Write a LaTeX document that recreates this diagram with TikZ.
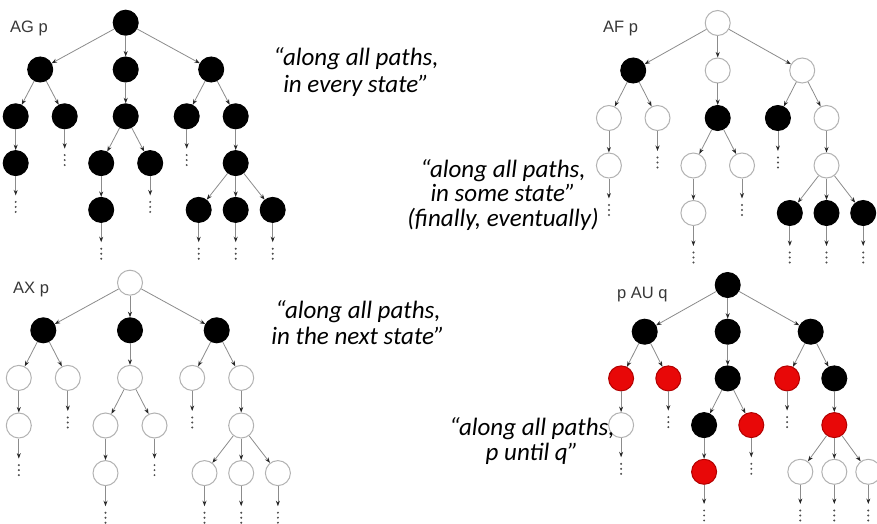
\documentclass[tikz,border=0pt]{standalone}
\usepackage{fontspec}
\setmainfont{Liberation Sans}
\newfontfamily\quotefont{Carlito}
\usetikzlibrary{arrows.meta}

\definecolor{qred}{RGB}{232,8,8}
\definecolor{tagcol}{RGB}{55,55,55}

\tikzset{
  state/.style={circle, minimum size=25pt, inner sep=0pt, line width=1pt, base fill},
  base fill/.style={open},
  open/.style={draw=black!30, fill=white},
  full/.style={draw=black, fill=black},
  hit/.style={draw=red!70!black, fill=qred},
  more/.style={rectangle, minimum width=3pt, minimum height=11pt, inner sep=0pt, outer ysep=6pt},
  dot/.style={fill=black!70},
  edge/.style={draw=black!45, line width=0.8pt, -{Stealth[length=5.5pt,width=4pt,color=black!85]}},
  tag/.style={text=tagcol, font=\fontsize{16.5}{19}\selectfont, inner sep=0pt},
  quote/.style={align=center, inner sep=0pt, font=\quotefont\itshape\fontsize{25}{27}\selectfont},
  n-r/.style={}, n-a/.style={}, n-b/.style={}, n-c/.style={},
  n-aa/.style={}, n-ab/.style={}, n-ba/.style={}, n-ca/.style={}, n-cb/.style={},
  n-aaa/.style={}, n-baa/.style={}, n-bab/.style={}, n-cba/.style={},
  n-baaa/.style={}, n-cbaa/.style={}, n-cbab/.style={}, n-cbac/.style={},
}

% three stacked dots inside a continuation node
\newcommand\stackdots[1]{%
  \fill[dot] (#1.center) ++(0,-5) circle (1.1) ++(0,5) circle (1.1) ++(0,5) circle (1.1);}

% #1 name prefix, #2/#3 root position, #4 first split, #5 second split,
% #6 split of the three-way branch, #7 distance between levels
\newcommand\ctltree[7]{%
  \node[state,n-r]    (#1r)    at (#2,#3) {};
  \node[state,n-a]    (#1a)    at (#2-#4,#3+#7) {};
  \node[state,n-b]    (#1b)    at (#2,#3+#7) {};
  \node[state,n-c]    (#1c)    at (#2+#4,#3+#7) {};
  \node[state,n-aa]   (#1aa)   at (#2-#4-#5,#3+2*#7) {};
  \node[state,n-ab]   (#1ab)   at (#2-#4+#5,#3+2*#7) {};
  \node[state,n-ba]   (#1ba)   at (#2,#3+2*#7) {};
  \node[state,n-ca]   (#1ca)   at (#2+#4-#5,#3+2*#7) {};
  \node[state,n-cb]   (#1cb)   at (#2+#4+#5,#3+2*#7) {};
  \node[state,n-aaa]  (#1aaa)  at (#2-#4-#5,#3+3*#7) {};
  \node[state,n-baa]  (#1baa)  at (#2-#5,#3+3*#7) {};
  \node[state,n-bab]  (#1bab)  at (#2+#5,#3+3*#7) {};
  \node[state,n-cba]  (#1cba)  at (#2+#4+#5,#3+3*#7) {};
  \node[state,n-baaa] (#1baaa) at (#2-#5,#3+4*#7) {};
  \node[state,n-cbaa] (#1cbaa) at (#2+#4+#5-#6,#3+4*#7) {};
  \node[state,n-cbab] (#1cbab) at (#2+#4+#5,#3+4*#7) {};
  \node[state,n-cbac] (#1cbac) at (#2+#4+#5+#6,#3+4*#7) {};
  % continuations
  \node[more] (#1abd)   at (#2-#4+#5,#3+3*#7-3) {};
  \node[more] (#1cad)   at (#2+#4-#5,#3+3*#7-3) {};
  \node[more] (#1aaad)  at (#2-#4-#5,#3+4*#7-3) {};
  \node[more] (#1babd)  at (#2+#5,#3+4*#7-3) {};
  \node[more] (#1baaad) at (#2-#5,#3+5*#7-3) {};
  \node[more] (#1cbaad) at (#2+#4+#5-#6,#3+5*#7-3) {};
  \node[more] (#1cbabd) at (#2+#4+#5,#3+5*#7-3) {};
  \node[more] (#1cbacd) at (#2+#4+#5+#6,#3+5*#7-3) {};
  \stackdots{#1abd}\stackdots{#1cad}\stackdots{#1aaad}\stackdots{#1babd}
  \stackdots{#1baaad}\stackdots{#1cbaad}\stackdots{#1cbabd}\stackdots{#1cbacd}
  % transitions
  \draw[edge] (#1r) -- (#1a);
  \draw[edge] (#1r) -- (#1b);
  \draw[edge] (#1r) -- (#1c);
  \draw[edge] (#1a) -- (#1aa);
  \draw[edge] (#1a) -- (#1ab);
  \draw[edge] (#1b) -- (#1ba);
  \draw[edge] (#1c) -- (#1ca);
  \draw[edge] (#1c) -- (#1cb);
  \draw[edge] (#1aa) -- (#1aaa);
  \draw[edge] (#1ba) -- (#1baa);
  \draw[edge] (#1ba) -- (#1bab);
  \draw[edge] (#1cb) -- (#1cba);
  \draw[edge] (#1baa) -- (#1baaa);
  \draw[edge] (#1cba) -- (#1cbaa);
  \draw[edge] (#1cba) -- (#1cbab);
  \draw[edge] (#1cba) -- (#1cbac);
  \draw[edge] (#1ab.south) -- (#1abd.north);
  \draw[edge] (#1ca.south) -- (#1cad.north);
  \draw[edge] (#1aaa.south) -- (#1aaad.north);
  \draw[edge] (#1bab.south) -- (#1babd.north);
  \draw[edge] (#1baaa.south) -- (#1baaad.north);
  \draw[edge] (#1cbaa.south) -- (#1cbaad.north);
  \draw[edge] (#1cbab.south) -- (#1cbabd.north);
  \draw[edge] (#1cbac.south) -- (#1cbacd.north);
}

\begin{document}
\begin{tikzpicture}[x=1pt, y=-1pt]
  \path[use as bounding box, fill=white] (0,0) rectangle (877,524);

  % AG p: p holds everywhere
  \begin{scope}[base fill/.style=full]
    \ctltree{g}{125.7}{22.7}{85.5}{24.5}{37}{46.8}
  \end{scope}
  \node[tag, anchor=base west] (lg) at (10,33) {AG p};

  % AF p: p holds somewhere on every path
  \begin{scope}[n-a/.style=full, n-ba/.style=full, n-ca/.style=full,
                n-cbaa/.style=full, n-cbab/.style=full, n-cbac/.style=full]
    \ctltree{f}{717.7}{23}{84.5}{24.3}{36.7}{47.5}
  \end{scope}
  \node[tag, anchor=base west] (lf) at (603,33) {AF p};

  % AX p: p holds in every successor
  \begin{scope}[n-a/.style=full, n-b/.style=full, n-c/.style=full]
    \ctltree{x}{130}{282.7}{86.7}{24.5}{36.7}{47.6}
  \end{scope}
  \node[tag, anchor=base west] (lx) at (13,293) {AX p};

  % p AU q: p until q on every path
  \begin{scope}[base fill/.style=full, n-aa/.style=hit, n-ab/.style=hit,
                n-ca/.style=hit, n-aaa/.style=open, n-bab/.style=hit,
                n-cba/.style=hit, n-baaa/.style=hit, n-cbaa/.style=open,
                n-cbab/.style=open, n-cbac/.style=open]
    \ctltree{u}{727.7}{285}{83}{23.6}{34}{46.7}
  \end{scope}
  \node[tag, anchor=base west] (lu) at (617,298) {p AU q};

  % readings of the operators
  \node[quote] (qg) at (356,72) {“along all paths,\\in every state”};
  \node[quote, font=\quotefont\itshape\fontsize{25}{24.5}\selectfont] (qf) at (503,195)
    {“along all paths,\\in some state”\\(finally, eventually)};
  \node[quote, font=\quotefont\itshape\fontsize{25}{26}\selectfont] (qx) at (358,323)
    {“along all paths,\\in the next state”};
  \node[quote, font=\quotefont\itshape\fontsize{25}{25}\selectfont] (qu) at (532,441)
    {“along all paths,\\p until q”};
\end{tikzpicture}
\end{document}
